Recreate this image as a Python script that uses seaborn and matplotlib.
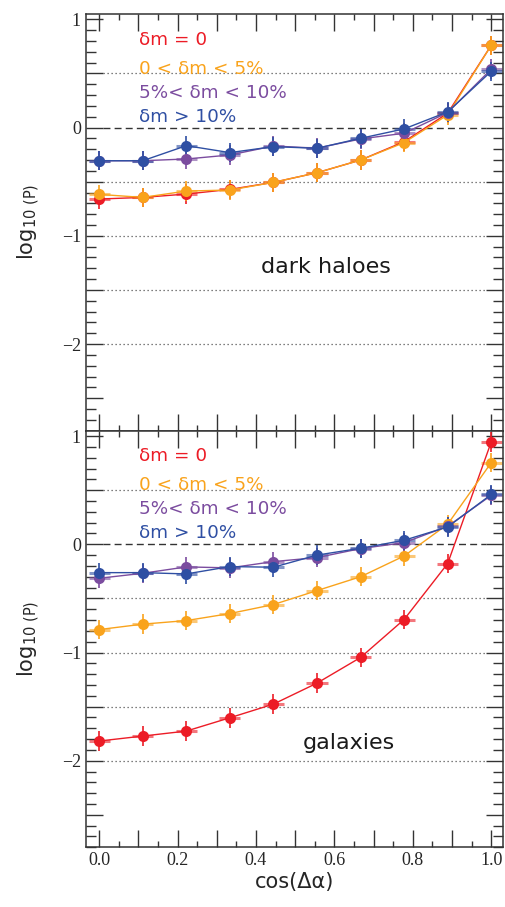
import numpy as np
import pandas as pd
import seaborn as sns
import matplotlib.pyplot as plt
from matplotlib.ticker import MultipleLocator, FuncFormatter

sns.set_style("ticks")
plt.rcParams['font.family'] = ['DejaVu Sans']
plt.rcParams['mathtext.fontset'] = 'dejavusans'

cos_da = [0.0, 1/9, 2/9, 3/9, 4/9, 5/9, 6/9, 7/9, 8/9, 1.0]
groups = ["\u03b4m = 0", "0 < \u03b4m < 5%", "5%< \u03b4m < 10%", "\u03b4m > 10%"]
colors = ["#ec1c26", "#f9a31c", "#7b4c9f", "#2f4fa3"]

# dark haloes
halo_dm0 = [-0.66, -0.645, -0.614, -0.571, -0.506, -0.417, -0.30, -0.13, 0.133, 0.76]
halo_dm5 = [-0.617, -0.645, -0.586, -0.577, -0.506, -0.417, -0.30, -0.139, 0.117, 0.76]
halo_dm10 = [-0.306, -0.306, -0.29, -0.253, -0.17, -0.19, -0.105, -0.052, 0.139, 0.54]
halo_big = [-0.306, -0.306, -0.167, -0.231, -0.176, -0.191, -0.099, -0.012, 0.145, 0.52]

# galaxies
gal_dm0 = [-1.818, -1.772, -1.726, -1.603, -1.477, -1.283, -1.046, -0.695, -0.178, 0.945]
gal_dm5 = [-0.788, -0.738, -0.705, -0.64, -0.557, -0.428, -0.30, -0.108, 0.185, 0.754]
gal_dm10 = [-0.314, -0.268, -0.209, -0.218, -0.16, -0.123, -0.04, 0.015, 0.166, 0.452]
gal_big = [-0.262, -0.262, -0.274, -0.206, -0.212, -0.10, -0.037, 0.037, 0.16, 0.46]

y_err = 0.09
x_err = 0.027

panels = [("dark haloes", [halo_dm0, halo_dm5, halo_dm10, halo_big], (261, 267)),
          ("galaxies", [gal_dm0, gal_dm5, gal_dm10, gal_big], (303, 743))]
draw_order = [0, 2, 3, 1]

fig = plt.figure(figsize=(5.05, 9.07), dpi=100)
axes = fig.subplots(2, 1, sharex=True)
fig.subplots_adjust(left=0.170, right=0.996, top=0.9846, bottom=0.0658, hspace=0)

serif = ['Liberation Serif', 'DejaVu Serif']
for ax, (name, series, lab_pos) in zip(axes, panels):
    for i in draw_order:
        vals = series[i]
        df = pd.DataFrame({"x": cos_da, "y": vals})
        ax.errorbar(cos_da, vals, xerr=x_err, fmt='none', ecolor=colors[i],
                    elinewidth=2.2, alpha=0.6, zorder=2 + i * 0.1)
        ax.errorbar(cos_da, vals, yerr=y_err, fmt='none', ecolor=colors[i],
                    elinewidth=1.2, zorder=2 + i * 0.1)
        sns.lineplot(data=df, x="x", y="y", ax=ax, color=colors[i], lw=1.0,
                     marker='o', markersize=8, markeredgewidth=0,
                     zorder=3 + i * 0.1)
    ax.set_xlim(-0.034, 1.03)
    ax.set_ylim(-2.8, 1.05)
    ax.axhline(0, xmin=0.04, xmax=0.96, color='#333333', ls=(0, (5, 3)), lw=1.0, zorder=1)
    for g in [0.5, -0.5, -1, -1.5, -2]:
        ax.axhline(g, xmin=0.04, xmax=0.96, color='#555555', ls=(0, (1, 2.2)), lw=0.9, zorder=1)
    ax.yaxis.set_major_locator(MultipleLocator(0.5))
    ax.yaxis.set_minor_locator(MultipleLocator(0.1))
    ax.yaxis.set_major_formatter(FuncFormatter(
        lambda v, p: ("%d" % round(v)).replace('-', '\u2212') if abs(v - round(v)) < 1e-6 else ""))
    ax.xaxis.set_major_locator(MultipleLocator(0.1))
    ax.xaxis.set_minor_locator(MultipleLocator(0.05))
    ax.xaxis.set_major_formatter(FuncFormatter(
        lambda v, p: "%.1f" % v if round(v * 10) % 2 == 0 else ""))
    ax.tick_params(which='both', direction='in', top=True, right=True, color='#333333')
    ax.tick_params(which='major', axis='y', length=12, width=1.0)
    ax.tick_params(which='minor', axis='y', length=7, width=1.0)
    ax.tick_params(which='major', axis='x', length=12, width=1.0)
    ax.tick_params(which='minor', axis='x', length=4, width=1.0)
    for lab in ax.get_yticklabels() + ax.get_xticklabels():
        lab.set_family(serif)
        lab.set_fontsize(13)
    for s in ax.spines.values():
        s.set_color('#333333')
        s.set_linewidth(1.1)
    ax.set_ylabel(r"log$_{10\ (\mathrm{P})}$", fontsize=15, labelpad=14)
    ax.set_xlabel("")
    ax.text(lab_pos[0] / 505, 1 - lab_pos[1] / 907, name, transform=fig.transFigure,
            fontsize=16, ha='left', va='center', color='#1a1a1a')
    top_y = 40 if name == "dark haloes" else 456
    for j, (g, c) in enumerate(zip(groups, colors)):
        ax.text(139 / 505, 1 - (top_y + [0, 29, 53, 77][j]) / 907, g,
                transform=fig.transFigure, fontsize=13.2, color=c,
                ha='left', va='center')

axes[1].set_xlabel("cos(\u0394\u03b1)", fontsize=15, labelpad=2)
axes[0].tick_params(axis='x', labelbottom=False)

fig.savefig("out.png", dpi=100)
